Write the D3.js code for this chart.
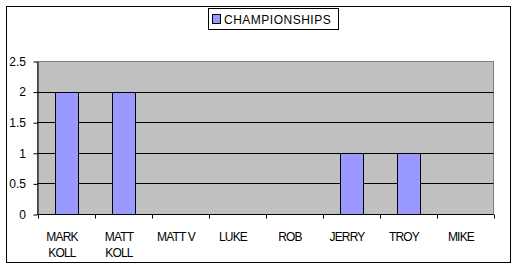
<!DOCTYPE html>
<html><head><meta charset="utf-8">
<script src="https://cdn.jsdelivr.net/npm/d3@7"></script>
<style>
html,body{margin:0;padding:0;background:#fff;}
svg{display:block;font-family:Arial,"Liberation Sans",sans-serif;}
</style></head><body>
<svg id="c" width="517" height="270"></svg>
<script>
const categories = [["MARK","KOLL"],["MATT","KOLL"],["MATT V"],["LUKE"],["ROB"],["JERRY"],["TROY"],["MIKE"]];
const championships = [2,2,0,0,0,1,1,0];
const yTicks = [0,0.5,1,1.5,2,2.5];
const seriesName = "CHAMPIONSHIPS";

const svg = d3.select("#c");
const L = 37.5, R = 493.5, T = 61.5, B = 214.5;
const keys = categories.map((c,i)=>i);
const x = d3.scaleBand().domain(keys).range([L,R]).paddingInner(0.6).paddingOuter(0.3);
const y = d3.scaleLinear().domain([0,2.5]).range([B,T]);
const py = v => Math.floor(y(v)) + 0.5;

// outer border
svg.append("rect").attr("x",6.5).attr("y",6.5).attr("width",504).attr("height",256)
  .attr("fill","#fff").attr("stroke","#000");

// plot area
svg.append("rect").attr("x",L).attr("y",T).attr("width",R-L).attr("height",B-T)
  .attr("fill","#C0C0C0").attr("stroke","#808080");

// gridlines
svg.append("g").selectAll("line").data(yTicks.filter(v=>v>0 && v<2.5)).join("line")
  .attr("x1",L).attr("x2",R).attr("y1",d=>py(d)).attr("y2",d=>py(d))
  .attr("stroke","#000");

// bars
svg.append("g").selectAll("rect").data(championships.map((v,i)=>({v,i})).filter(d=>d.v>0)).join("rect")
  .attr("x",d=>Math.round(x(d.i))+0.5).attr("width",Math.round(x.bandwidth()))
  .attr("y",d=>py(d.v)).attr("height",d=>py(0)-py(d.v))
  .attr("fill","#9999FF").attr("stroke","#000");

// y axis
const ya = svg.append("g").attr("transform",`translate(${L},0)`)
  .call(d3.axisLeft(y).tickValues(yTicks).tickSize(4).tickSizeOuter(0).tickFormat(d3.format("")));
ya.select(".domain").attr("stroke","#000");
ya.selectAll(".tick line").attr("stroke","#000");
ya.selectAll(".tick text").attr("font-size","12px").attr("x",-11.5).attr("fill","#000")
  .attr("font-family","Arial,'Liberation Sans',sans-serif");

// x axis
const step = x.step();
const bounds = keys.map(k=>x(k)-step*0.3).concat([R]);
svg.append("line").attr("x1",L).attr("x2",R).attr("y1",py(0)).attr("y2",py(0)).attr("stroke","#000");
svg.append("g").selectAll("line").data(bounds).join("line")
  .attr("x1",d=>Math.round(d)+0.5).attr("x2",d=>Math.round(d)+0.5).attr("y1",py(0)).attr("y2",py(0)+4)
  .attr("stroke","#000");
const xl = svg.append("g").selectAll("text").data(keys).join("text")
  .attr("x",k=>x(k)+x.bandwidth()/2-4).attr("y",241)
  .attr("text-anchor","middle").attr("font-size","12px").attr("letter-spacing","-0.8px").attr("fill","#000");
xl.each(function(k){
  const t = d3.select(this);
  categories[k].forEach((line,j)=>{
    t.append("tspan").attr("x",x(k)+x.bandwidth()/2-4).attr("dy",j===0?0:15.7).text(line);
  });
});

// legend
const lg = svg.append("g");
lg.append("rect").attr("x",208.5).attr("y",8.5).attr("width",130).attr("height",21)
  .attr("fill","#fff").attr("stroke","#000");
lg.append("rect").attr("x",212.5).attr("y",14.5).attr("width",8).attr("height",9)
  .attr("fill","#9999FF").attr("stroke","#000");
lg.append("text").attr("x",224).attr("y",24.3).attr("font-size","12px").attr("letter-spacing","0.5px")
  .attr("fill","#000").text(seriesName);
</script>
</body></html>
